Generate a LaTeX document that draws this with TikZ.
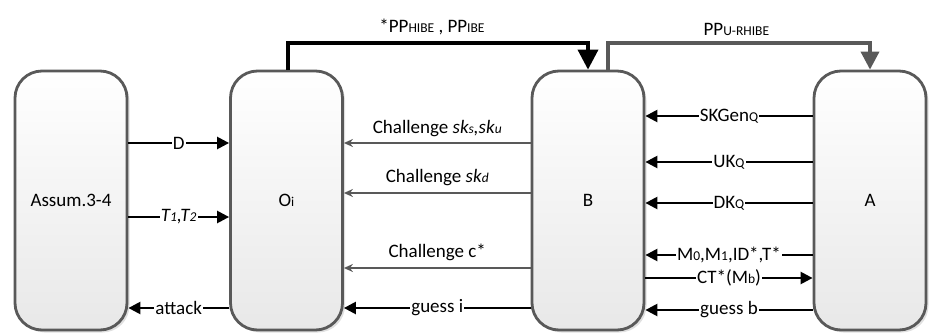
\documentclass[tikz,border=0pt]{standalone}
\usepackage{fontspec}
\setmainfont{Carlito}
\usetikzlibrary{arrows.meta,shadows}
\definecolor{edgegray}{HTML}{595959}
\newcommand{\sbs}[1]{{\fontsize{13.5}{13.5}\selectfont #1}}
\begin{document}
\begin{tikzpicture}[x=1pt,y=-1pt,
  agent/.style={rounded corners=27pt, draw=edgegray, line width=2.8pt,
    top color=white, bottom color=black!9, minimum width=112pt,
    minimum height=259pt, inner sep=0pt,
    drop shadow={shadow xshift=2.5pt, shadow yshift=-2.5pt, fill=black!12, opacity=1},
    font=\fontsize{19}{22}\selectfont},
  blk/.style={draw=black, line width=2.4pt, -{Triangle[length=12pt,width=12pt]}},
  gry/.style={draw=edgegray, line width=1.8pt, -{Stealth[length=9pt,width=8pt]}},
  topblk/.style={draw=black, line width=3.6pt, line join=miter, -{Triangle[length=20pt,width=20pt]}},
  topgry/.style={draw=edgegray, line width=3.6pt, line join=miter, -{Triangle[length=18pt,width=18pt]}},
  lbl/.style={fill=white, inner sep=1pt, font=\fontsize{19}{22}\selectfont},
  albl/.style={inner sep=2pt, font=\fontsize{19}{22}\selectfont}
]
\useasboundingbox (0,0) rectangle (930,335);
\node[agent] (as) at (71,200.5) {Assum.3-4};
\node[agent] (oi) at (286.5,200.5) {O\sbs{i}};
\node[agent] (b) at (588,200.5) {B};
\node[agent] (a) at (870,200.5) {A};

% top arrows
\draw[topblk] ([xshift=1.5pt]oi.north) -- ([xshift=1.5pt]oi.north |- 0,43)
  -- node[albl, above=4pt, pos=0.48]{*PP\sbs{HIBE} , PP\sbs{IBE}} (b.north |- 0,43) -- (b.north);
\draw[topgry] ([xshift=20pt]b.north) -- ([xshift=20pt]b.north |- 0,43)
  -- node[albl, above=4pt, pos=0.49]{PP\sbs{U-RHIBE}} (a.north |- 0,43) -- (a.north);

% Assum <-> Oi
\draw[blk] (as.east |- 0,143) -- node[lbl]{D} (oi.west |- 0,143);
\draw[blk] (as.east |- 0,217) -- node[lbl]{\textit{T\sbs{1},T\sbs{2}}} (oi.west |- 0,217);
\draw[blk] (oi.west |- 0,308) -- node[lbl]{attack} (as.east |- 0,308);

% B -> Oi
\draw[gry] (b.west |- 0,143) -- node[albl, above=3pt]{Challenge \textit{sk\sbs{s},sk\sbs{u}}} (oi.east |- 0,143);
\draw[gry] (b.west |- 0,193) -- node[albl, above=4pt]{Challenge \textit{sk\sbs{d}}} (oi.east |- 0,193);
\draw[gry] (b.west |- 0,268) -- node[albl, above=4pt]{Challenge c*} (oi.east |- 0,268);
\draw[blk] (b.west |- 0,308) -- node[lbl]{guess i} (oi.east |- 0,308);

% A <-> B
\draw[blk] (a.west |- 0,116) -- node[lbl]{SKGen\sbs{Q}} (b.east |- 0,116);
\draw[blk] (a.west |- 0,162) -- node[lbl]{UK\sbs{Q}} (b.east |- 0,162);
\draw[blk] (a.west |- 0,203) -- node[lbl]{DK\sbs{Q}} (b.east |- 0,203);
\draw[blk] (a.west |- 0,255) -- node[lbl]{M\sbs{0},M\sbs{1},ID*,T*} (b.east |- 0,255);
\draw[blk] (b.east |- 0,278) -- node[lbl]{CT*(M\sbs{b})} (a.west |- 0,278);
\draw[blk] (a.west |- 0,310) -- node[lbl]{guess b} (b.east |- 0,310);
\end{tikzpicture}
\end{document}
